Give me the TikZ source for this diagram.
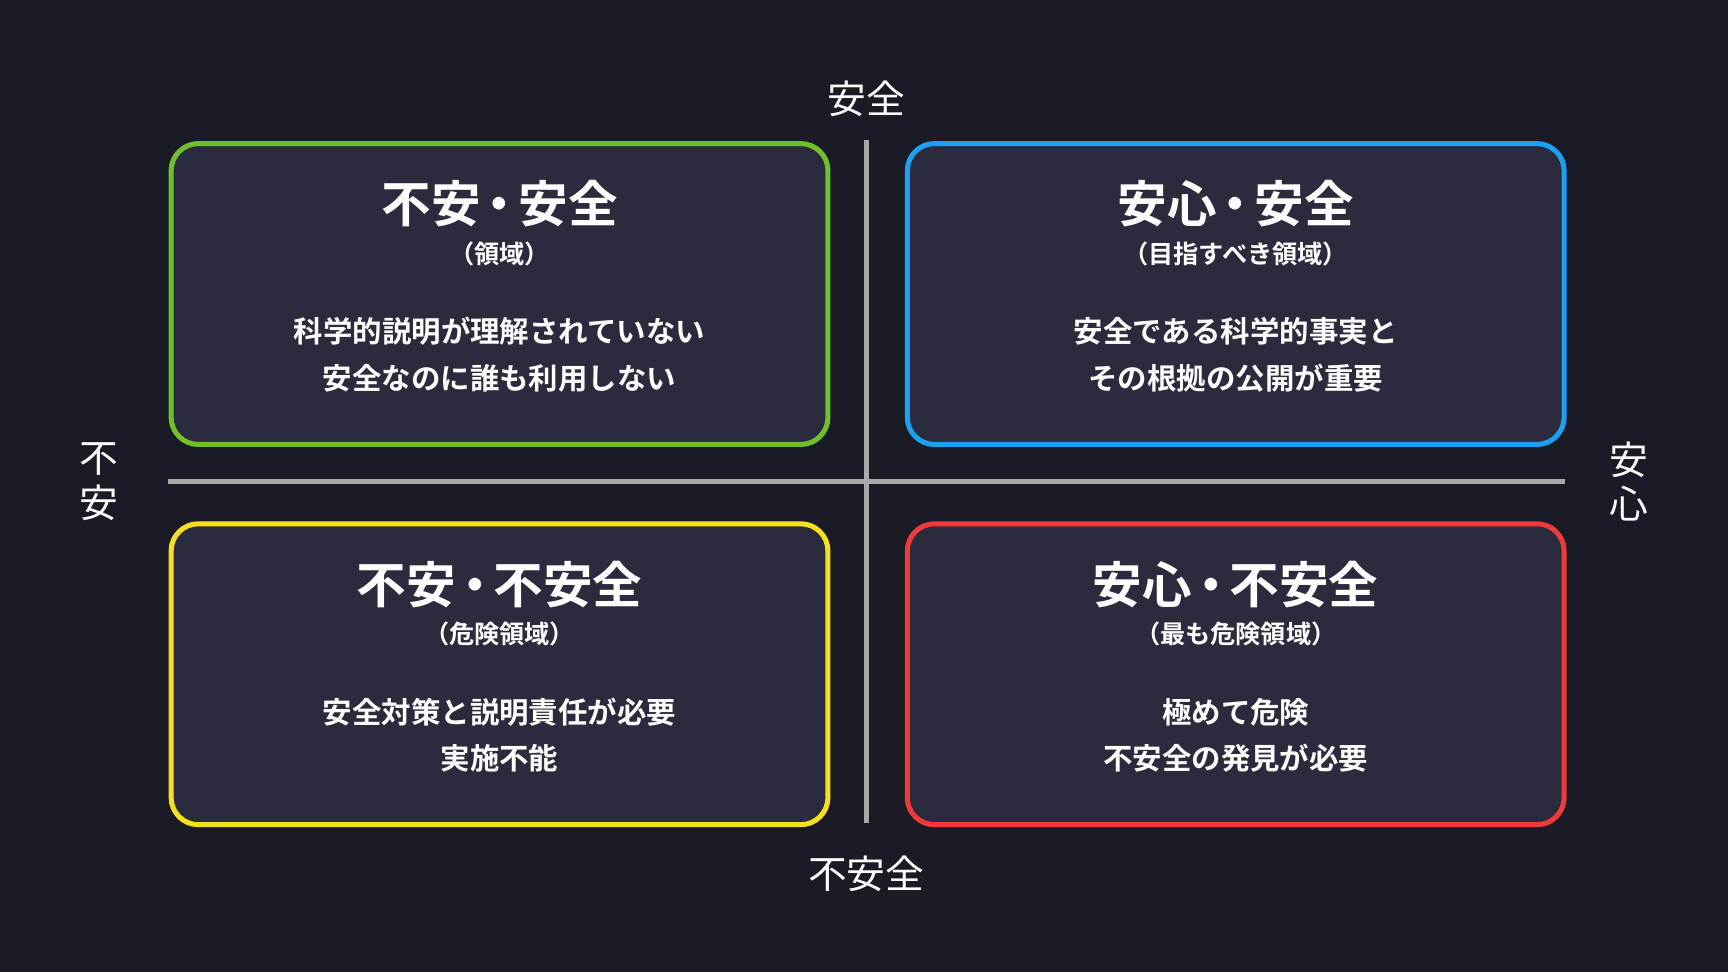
\documentclass[tikz,border=0pt]{standalone}
\usepackage{fontspec}
\setmainfont{Noto Sans CJK JP}[BoldFont={* Bold}]
\usetikzlibrary{positioning}
\definecolor{bgcol}{HTML}{1A1B24}
\definecolor{boxcol}{HTML}{2A2B3D}
\definecolor{qgreen}{HTML}{6FC02C}
\definecolor{qblue}{HTML}{1EA0F0}
\definecolor{qyellow}{HTML}{F5E020}
\definecolor{qred}{HTML}{F03A3A}
\definecolor{axiscol}{HTML}{A8A8A8}
\tikzset{
  quadbox/.style={draw=#1, line width=1.3pt, fill=boxcol, rounded corners=7pt,
    minimum width=5.96cm, minimum height=2.73cm, anchor=north west},
  qtitle/.style={text=white, font=\bfseries\fontsize{12.8}{14}\selectfont},
  qsub/.style={text=white, font=\bfseries\fontsize{6.5}{8}\selectfont},
  qbody/.style={text=white, align=center, font=\bfseries\fontsize{7.6}{12}\selectfont},
  axislabel/.style={text=white, font=\fontsize{10}{11}\selectfont}
}
\begin{document}
\begin{tikzpicture}[y=-1cm]
  \fill[bgcol] (0,0) rectangle (15.68,8.82);
  \useasboundingbox (0,0) rectangle (15.68,8.82);
  % axes
  \coordinate (top) at (7.86,1.27);
  \coordinate (bottom) at (7.86,7.47);
  \coordinate (left) at (1.52,4.37);
  \coordinate (right) at (14.20,4.37);
  \draw[axiscol, line width=1.3pt] (top) -- (bottom);
  \draw[axiscol, line width=1.3pt] (left) -- (right);
  \node[axislabel] (lsafe) at (7.86,0.90) {安全};
  \node[axislabel] (lunsafe) at (7.86,7.93) {不安全};
  \node[axislabel, align=center, font=\fontsize{10}{11.5}\selectfont] (lanx) at (0.90,4.37) {不\\安};
  \node[axislabel, align=center, font=\fontsize{10}{11.5}\selectfont] (lrel) at (14.78,4.37) {安\\心};
  % quadrants
  \node[quadbox=qgreen] (tl) at (1.53,1.28) {};
  \node[quadbox=qblue] (tr) at (8.21,1.28) {};
  \node[quadbox=qyellow] (bl) at (1.53,4.73) {};
  \node[quadbox=qred] (br) at (8.21,4.73) {};
  % texts
  \node[qtitle] at ([yshift=-0.57cm]tl.north) {不安\kern-.12em・\kern-.12em安全};
  \node[qsub] at ([yshift=-1.02cm]tl.north) {（領域）};
  \node[qbody] at ([yshift=-1.94cm]tl.north) {科学的説明が理解されていない\\安全なのに誰も利用しない};
  \node[qtitle] at ([yshift=-0.57cm]tr.north) {安心\kern-.12em・\kern-.12em安全};
  \node[qsub] at ([yshift=-1.02cm]tr.north) {（目指すべき領域）};
  \node[qbody] at ([yshift=-1.94cm]tr.north) {安全である科学的事実と\\その根拠の公開が重要};
  \node[qtitle] at ([yshift=-0.57cm]bl.north) {不安\kern-.12em・\kern-.12em不安全};
  \node[qsub] at ([yshift=-1.02cm]bl.north) {（危険領域）};
  \node[qbody] at ([yshift=-1.94cm]bl.north) {安全対策と説明責任が必要\\実施不能};
  \node[qtitle] at ([yshift=-0.57cm]br.north) {安心\kern-.12em・\kern-.12em不安全};
  \node[qsub] at ([yshift=-1.02cm]br.north) {（最も危険領域）};
  \node[qbody] at ([yshift=-1.94cm]br.north) {極めて危険\\不安全の発見が必要};
\end{tikzpicture}
\end{document}
